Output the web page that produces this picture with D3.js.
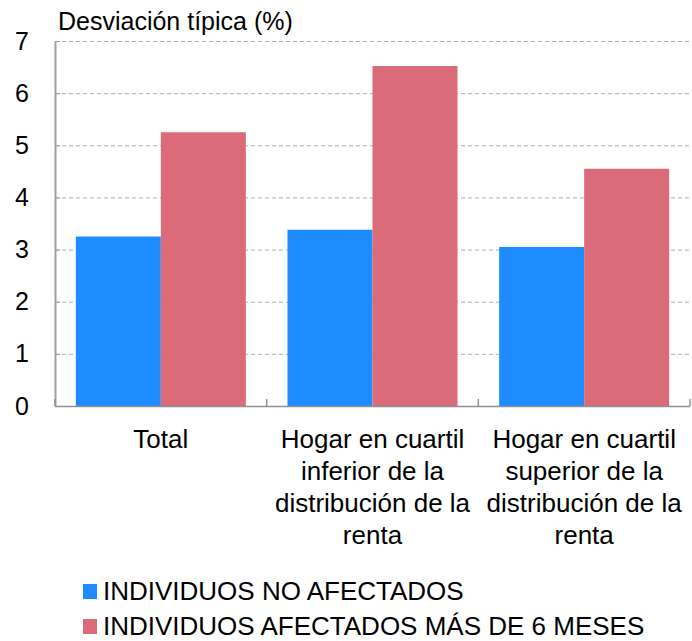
<!DOCTYPE html>
<html><head><meta charset="utf-8">
<script src="https://cdn.jsdelivr.net/npm/d3@7"></script>
<style>body{margin:0;background:#fff;} text{font-family:"Liberation Sans",Arial,Helvetica,sans-serif;fill:#000;}</style>
</head><body>
<svg id="chart" width="692" height="641"></svg>
<script>
const categories = [
  ["Total"],
  ["Hogar en cuartil","inferior de la","distribución de la","renta"],
  ["Hogar en cuartil","superior de la","distribución de la","renta"]
];
const seriesNames = ["INDIVIDUOS NO AFECTADOS","INDIVIDUOS AFECTADOS MÁS DE 6 MESES"];
const noAfectados = [3.25, 3.38, 3.05];
const afectados6m = [5.25, 6.52, 4.55];
const yTicks = [0,1,2,3,4,5,6,7];
const colors = ["#1E8BFF","#DB6B78"];

const svg = d3.select("#chart");
const m = {left:55, right:690, top:41, bottom:406};
const x = d3.scaleBand().domain(d3.range(categories.length)).range([m.left,m.right]).padding(0);
const xi = d3.scaleBand().domain([0,1]).range([0,x.bandwidth()]).paddingInner(0).paddingOuter(0.245);
const y = d3.scaleLinear().domain([0,7]).range([m.bottom,m.top]);

// gridlines
svg.append("g").selectAll("line").data(yTicks.filter(d=>d>0)).join("line")
  .attr("x1",m.left).attr("x2",m.right).attr("y1",d=>y(d)+0.5).attr("y2",d=>y(d)+0.5)
  .attr("stroke","#b0b0b0").attr("stroke-dasharray","4,3").attr("stroke-width",1);

// bars
const data = categories.map((c,i)=>[noAfectados[i], afectados6m[i]]);
const g = svg.append("g");
data.forEach((vals,i)=>{
  g.selectAll(null).data(vals).join("rect")
    .attr("x",(d,j)=>x(i)+xi(j)).attr("width",xi.bandwidth())
    .attr("y",d=>y(d)).attr("height",d=>y(0)-y(d))
    .attr("fill",(d,j)=>colors[j]);
});

// y axis
const yAxis = d3.axisLeft(y).tickValues(yTicks).tickSize(0).tickPadding(33).tickFormat(d3.format("d"));
const ya = svg.append("g").attr("transform",`translate(${m.left},0)`).call(yAxis);
ya.select(".domain").attr("stroke","#a0a0a0").attr("stroke-width",2);
ya.selectAll("text").style("font-size","25px").attr("text-anchor","middle");
ya.selectAll(".tick").append("line").attr("x1",0).attr("x2",5).attr("stroke","#999");

// x axis
svg.append("line").attr("x1",m.left).attr("x2",m.right).attr("y1",m.bottom+0.5).attr("y2",m.bottom+0.5).attr("stroke","#909090").attr("stroke-width",1.5);
const bounds = d3.range(categories.length+1).map(i=> i<categories.length ? x(i) : x(categories.length-1)+x.bandwidth());
svg.append("g").selectAll("line").data(bounds).join("line")
  .attr("x1",d=>d).attr("x2",d=>d).attr("y1",m.bottom).attr("y2",m.bottom-7).attr("stroke","#909090").attr("stroke-width",1.5);

// category labels
categories.forEach((lines,i)=>{
  const t = svg.append("text").attr("x",x(i)+x.bandwidth()/2).attr("y",448).attr("text-anchor","middle").style("font-size","26px");
  lines.forEach((l,k)=>t.append("tspan").attr("x",x(i)+x.bandwidth()/2).attr("dy",k?32:0).text(l));
});

// title
svg.append("text").attr("x",58).attr("y",30).style("font-size","25px").text("Desviación típica (%)");

// legend
const leg = svg.append("g");
seriesNames.forEach((s,j)=>{
  const yy = 600 + j*35;
  leg.append("rect").attr("x",83).attr("y",yy-16).attr("width",14).attr("height",15).attr("fill",colors[j]);
  leg.append("text").attr("x",103).attr("y",yy).style("font-size","26px").text(s);
});
</script></body></html>
